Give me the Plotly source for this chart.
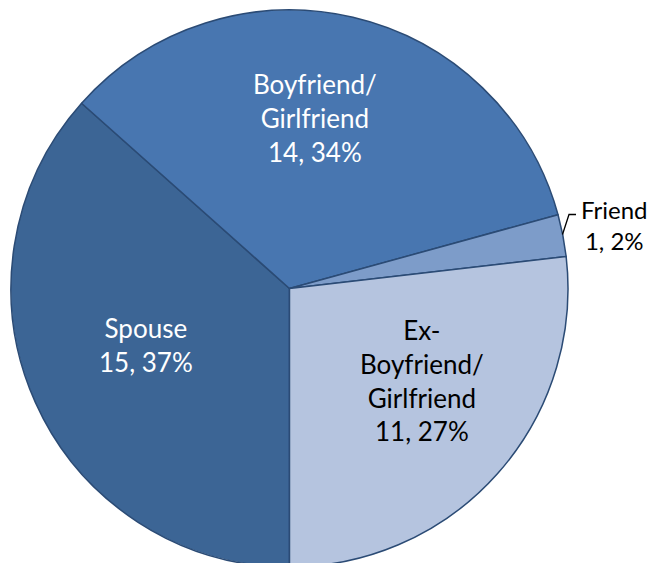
import plotly.graph_objects as go

categories = ["Spouse", "Boyfriend/<br>Girlfriend", "Friend", "Ex-<br>Boyfriend/<br>Girlfriend"]
values = [15, 14, 1, 11]
colors = ["#3C6595", "#4876B0", "#7D9CC9", "#B5C4DF"]
text_colors = ["white", "white", "black", "black"]
text_sizes = [26, 26, 24, 26]
# label anchor points in window pixels (x, y)
label_pos = [(146, 345), (315, 118), (650, 225), (422, 380)]
label_xanchor = ["center", "center", "right", "center"]

W, H = 660, 563
OFF = 8          # page body margin offsets the figure inside the window
T, B = 2, 4
total = sum(values)


def to_paper(px, py):
    fx, fy = px - OFF, py - OFF
    return fx / W, (H - B - fy) / (H - T - B)


fig = go.Figure(go.Pie(
    labels=categories,
    values=values,
    sort=False,
    direction="clockwise",
    rotation=180,
    marker=dict(colors=colors, line=dict(color="#2B4B75", width=1.5)),
    textinfo="none",
    showlegend=False,
    hoverinfo="skip",
    domain=dict(x=[0.0, 0.853], y=[0, 1]),
))

for cat, v, tc, ts, xa, (px, py) in zip(categories, values, text_colors,
                                        text_sizes, label_xanchor, label_pos):
    pct = round(100 * v / total)
    x, y = to_paper(px, py)
    fig.add_annotation(
        x=x, y=y, xref="paper", yref="paper",
        xanchor=xa, yanchor="middle",
        text=f"{cat}<br>{v}, {pct}%",
        showarrow=False, align="center",
        font=dict(family="Lato", size=ts, color=tc),
    )

# leader line for the small "Friend" slice
pts = [to_paper(562.5, 234.5), to_paper(569, 214.5), to_paper(576, 214.5)]
fig.add_shape(
    type="path", xref="paper", yref="paper",
    path="M {} {} L {} {} L {} {}".format(*[c for p in pts for c in p]),
    line=dict(color="black", width=1.3),
)

fig.update_layout(
    width=W, height=H,
    margin=dict(l=0, r=0, t=T, b=B),
    paper_bgcolor="white",
    plot_bgcolor="white",
)

fig.write_html("out.html")
